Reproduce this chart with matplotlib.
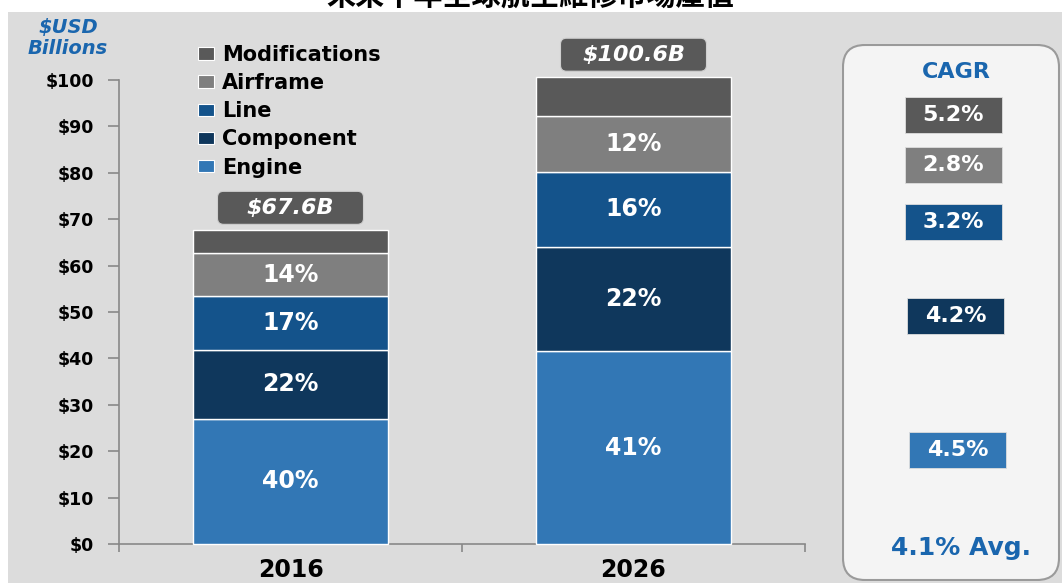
import numpy as np
import matplotlib
matplotlib.use('Agg')
import matplotlib.pyplot as plt
from matplotlib.patches import Rectangle, FancyBboxPatch, Patch
from matplotlib.transforms import IdentityTransform

# MRO market size by segment, $USD billions
years = ['2016', '2026']
segments = ['Engine', 'Component', 'Line', 'Airframe', 'Modifications']
values_2016 = [27.0, 14.9, 11.5, 9.3, 4.9]
values_2026 = [41.5, 22.5, 16.2, 12.0, 8.4]
labelled = [True, True, True, True, False]   # modifications share not printed
cagr = [4.5, 4.2, 3.2, 2.8, 5.2]
cagr_avg = 4.1
yticks = np.arange(0, 101, 10)
title = '未來十年全球航空維修市場產值'

colors = ['#3277b5', '#0f375c', '#14538b', '#7f7f7f', '#595959']
blue_txt = '#1a66ae'

W, H = 1062, 583
fig = plt.figure(figsize=(W / 100, H / 100), dpi=100)

# grey slide background under a white strip at the top
fig.patches.append(Rectangle((8 / W, 0), 1, 1 - 12 / H, transform=fig.transFigure,
                             facecolor='#dcdcdc', edgecolor='none', zorder=-10))
fig.text(530 / W, 1 - 5 / H, title, ha='center', va='baseline', fontsize=21,
         fontweight='bold', family=['Noto Sans CJK TC', 'DejaVu Sans'])

ax = fig.add_axes([119 / W, 39 / H, 686 / W, 464 / H])
ax.set_facecolor('none')

data = np.array([values_2016, values_2026])
x = np.arange(len(years))
bottom = np.zeros(len(years))
for j, seg in enumerate(segments):
    vals = data[:, j]
    ax.bar(x, vals, 0.57, bottom=bottom, color=colors[j], edgecolor='white',
           linewidth=1, clip_on=False, label=seg, zorder=3)
    if labelled[j]:
        for i in range(len(years)):
            share = vals[i] / data[i].sum() * 100
            ax.text(x[i], bottom[i] + vals[i] / 2, f'{share:.0f}%', ha='center',
                    va='center', color='white', fontsize=17, fontweight='bold', zorder=4)
    bottom += vals

ax.set_xlim(-0.5, 1.5)
ax.set_ylim(0, 100)
ax.set_yticks(yticks)
ax.set_yticklabels([f'${v}' for v in yticks], fontsize=12.5, fontweight='bold')
ax.set_xticks(x)
ax.set_xticklabels(years, fontsize=17, fontweight='bold')
ax.set_xticks([-0.5, 0.5, 1.5], minor=True)
ax.tick_params(axis='x', which='major', length=0, pad=10)
ax.tick_params(axis='x', which='minor', length=6, color='#888888', width=1.2)
ax.tick_params(axis='y', length=8, color='#888888', width=1.2, pad=10)
for s in ['top', 'right']:
    ax.spines[s].set_visible(False)
for s in ['left', 'bottom']:
    ax.spines[s].set_color('#888888')
    ax.spines[s].set_linewidth(1.2)

# total value tags above each bar
fig.canvas.draw()
for i in range(len(years)):
    total = data[i].sum()
    px, py = ax.transData.transform((x[i], total))
    fig.patches.append(FancyBboxPatch((px - 73, py + 6), 146, 33,
                                      boxstyle='round,pad=0,rounding_size=6',
                                      transform=IdentityTransform(),
                                      facecolor='#595959', edgecolor='#cfcfcf', lw=0.8))
    fig.text(px, py + 22.5, f'${total:.1f}B', transform=IdentityTransform(),
             ha='center', va='center', color='white', fontsize=16,
             fontweight='bold', fontstyle='italic')

handles = [Patch(facecolor=colors[j], edgecolor='white', lw=0.8) for j in range(4, -1, -1)]
leg = ax.legend(handles, segments[::-1], loc='upper left',
                bbox_to_anchor=(198 / W, 1 - 45 / H), bbox_transform=fig.transFigure,
                frameon=False, prop={'size': 15, 'weight': 'bold'},
                handlelength=0.75, handleheight=0.55, handletextpad=0.4,
                labelspacing=0.39, borderpad=0, borderaxespad=0)

fig.text(68 / W, 1 - 28 / H, '$USD', ha='center', va='center', color=blue_txt,
         fontsize=14, fontweight='bold', fontstyle='italic')
fig.text(68 / W, 1 - 49 / H, 'Billions', ha='center', va='center', color=blue_txt,
         fontsize=14, fontweight='bold', fontstyle='italic')

# CAGR panel, axes in pixel units
pax = fig.add_axes([842 / W, 2 / H, 218 / W, 537 / H])
pax.set_xlim(0, 218)
pax.set_ylim(537, 0)
pax.axis('off')
pax.add_patch(FancyBboxPatch((1, 1), 216, 535, boxstyle='round,pad=0,rounding_size=22',
                             facecolor='#f4f4f4', edgecolor='#9a9a9a', lw=1.5))
pax.text(114, 28, 'CAGR', ha='center', va='center', color=blue_txt,
         fontsize=16, fontweight='bold')
box_left = [67, 65, 63, 63, 63]
box_top = [388, 254, 160, 103, 53]
for j in range(len(segments)):
    pax.add_patch(Rectangle((box_left[j], box_top[j]), 97, 36, facecolor=colors[j],
                            edgecolor='#dddddd', lw=0.6))
    pax.text(box_left[j] + 48.5, box_top[j] + 18, f'{cagr[j]:.1f}%', ha='center',
             va='center', color='white', fontsize=16, fontweight='bold')
pax.text(119, 504, f'{cagr_avg:.1f}% Avg.', ha='center', va='center', color=blue_txt,
         fontsize=18, fontweight='bold')

fig.savefig('out.png', dpi=100)
